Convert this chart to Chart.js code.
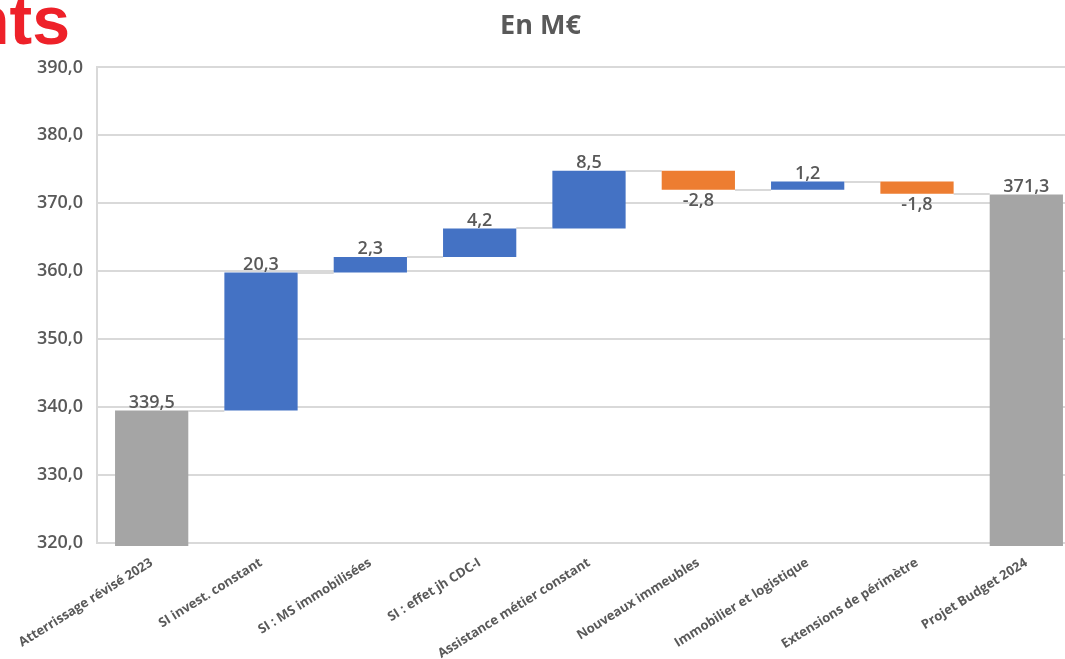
<!DOCTYPE html>
<html>
<head>
<meta charset="utf-8">
<script src="https://cdn.jsdelivr.net/npm/chart.js@4"></script>
<style>
  html, body { margin: 0; padding: 0; background: #fff; overflow: hidden; }
  #wrap { position: relative; width: 1085px; height: 659px; }
  #slideTitle {
    position: absolute; left: -32px; top: -14px;
    font-family: "Liberation Sans", sans-serif; font-weight: bold; font-size: 68px;
    line-height: 68px; color: #ee2129; white-space: nowrap;
  }
</style>
</head>
<body>
<div id="wrap">
  <canvas id="waterfall" width="1085" height="659"></canvas>
  <div id="slideTitle">nts</div>
</div>
<script>
const categories = [
  "Atterrissage révisé 2023", "SI invest. constant", "SI : MS immobilisées",
  "SI : effet jh CDC-I", "Assistance métier constant", "Nouveaux immeubles",
  "Immobilier et logistique", "Extensions de périmètre", "Projet Budget 2024"
]
const values = [339.5, 20.3, 2.3, 4.2, 8.5, -2.8, 1.2, -1.8, 371.3]
const isTotal = [true, false, false, false, false, false, false, false, true]
const yTicks = [320, 330, 340, 350, 360, 370, 380, 390]

const fmt = v => v.toFixed(1).replace(".", ",")

// floating ranges for the waterfall
let running = 0
const ranges = values.map((v, i) => {
  if (isTotal[i]) {
    running = v
    return [300, v]
  }
  const start = running
  running += v
  return [start, running]
})
const colors = values.map((v, i) => isTotal[i] ? "#a5a5a5" : (v < 0 ? "#ed7d31" : "#4472c4"))

const connectors = {
  id: "connectors",
  beforeDatasetsDraw(chart) {
    const ctx = chart.ctx
    const bars = chart.getDatasetMeta(0).data
    const y = chart.scales.y
    ctx.save()
    ctx.strokeStyle = "#d9d9d9"
    ctx.lineWidth = 2
    for (let i = 0; i < bars.length - 1; i++) {
      const level = ranges[i][1]
      const py = Math.round(y.getPixelForValue(level))
      ctx.beginPath()
      ctx.moveTo(bars[i].x + bars[i].width / 2, py)
      ctx.lineTo(bars[i + 1].x - bars[i + 1].width / 2, py)
      ctx.stroke()
    }
    ctx.restore()
  }
}

const valueLabels = {
  id: "valueLabels",
  afterDatasetsDraw(chart) {
    const ctx = chart.ctx
    const bars = chart.getDatasetMeta(0).data
    const y = chart.scales.y
    ctx.save()
    ctx.font = "600 18px 'Open Sans'"
    ctx.fillStyle = "#595959"
    ctx.textAlign = "center"
    bars.forEach((bar, i) => {
      const v = values[i]
      if (v < 0 && !isTotal[i]) {
        ctx.textBaseline = "top"
        ctx.fillText(fmt(v), bar.x, y.getPixelForValue(ranges[i][1]) + 2)
      } else {
        ctx.textBaseline = "bottom"
        ctx.fillText(fmt(v), bar.x, y.getPixelForValue(ranges[i][1]) + 1)
      }
    })
    ctx.restore()
  }
}

new Chart(document.getElementById("waterfall"), {
  type: "bar",
  data: {
    labels: categories,
    datasets: [{
      data: ranges,
      backgroundColor: colors,
      borderWidth: 0,
      barPercentage: 0.67,
      categoryPercentage: 1,
      clip: { left: 0, top: 0, right: 0, bottom: 3 }
    }]
  },
  options: {
    responsive: false,
    animation: false,
    layout: { padding: { left: 0, right: 4, top: 0, bottom: 0 } },
    plugins: {
      legend: { display: false },
      tooltip: { enabled: false },
      title: {
        display: true,
        text: "En M€",
        color: "#595959",
        font: { family: "Open Sans", size: 27, weight: "bold" },
        padding: { top: 10, bottom: 25 }
      }
    },
    scales: {
      x: {
        grid: { display: false },
        border: { display: false },
        ticks: {
          autoSkip: false,
          minRotation: 32,
          maxRotation: 32,
          color: "#595959",
          padding: 4,
          font: { family: "Open Sans", size: 13, weight: "bold" }
        },
        afterFit(scale) { scale.height = 116 }
      },
      y: {
        min: 320,
        max: 390,
        afterBuildTicks(scale) { scale.ticks = yTicks.map(v => ({ value: v })) },
        grid: { color: "#d9d9d9", lineWidth: 2, drawTicks: false },
        border: { color: "#d9d9d9", width: 2 },
        ticks: {
          color: "#595959",
          padding: 14,
          font: { family: "Open Sans", size: 18, weight: "600" },
          callback: v => fmt(v)
        },
        afterFit(scale) { scale.width = 97 }
      }
    }
  },
  plugins: [connectors, valueLabels]
})
</script>
</body>
</html>
